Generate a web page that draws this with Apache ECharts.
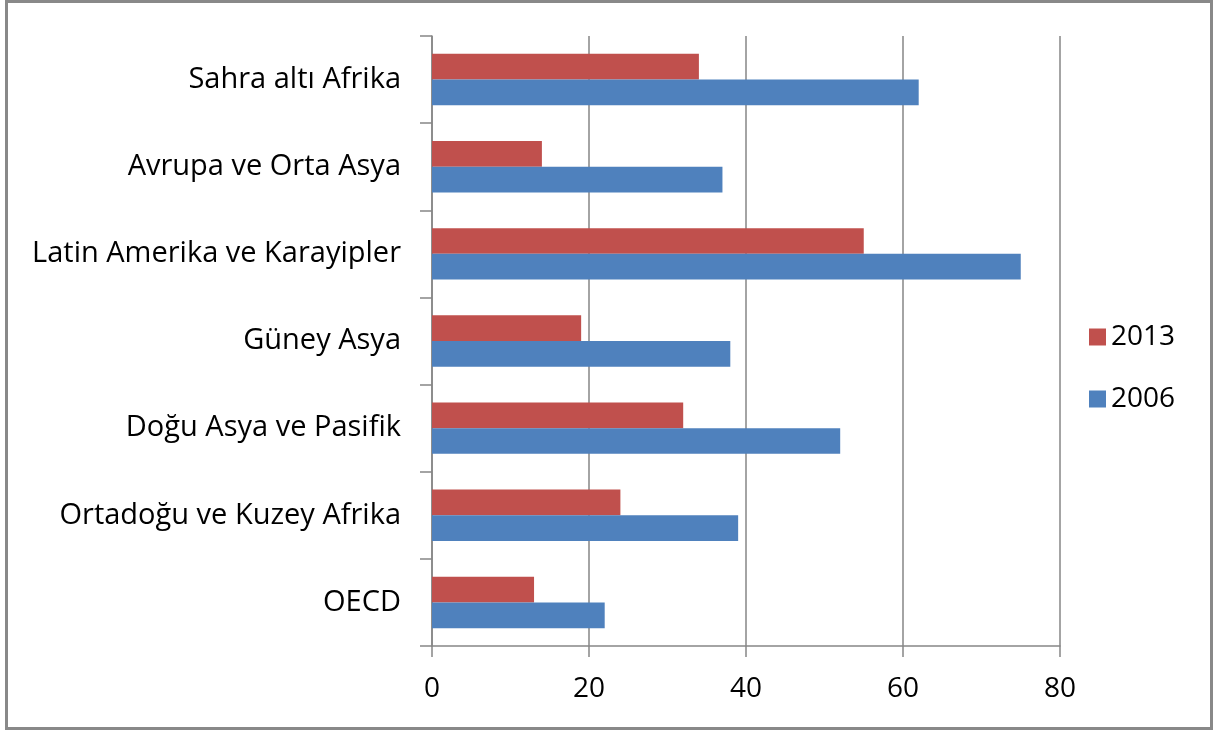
<!DOCTYPE html>
<html><head><meta charset="utf-8">
<script src="https://cdn.jsdelivr.net/npm/echarts@6/dist/echarts.min.js"></script>
<style>html,body{margin:0;padding:0;background:#fff}#c{width:1214px;height:731px}</style>
</head><body><div id="c"></div>
<script>
const categories = ['OECD','Ortadoğu ve Kuzey Afrika','Doğu Asya ve Pasifik','Güney Asya','Latin Amerika ve Karayipler','Avrupa ve Orta Asya','Sahra altı Afrika'];
const values2006 = [22, 39, 52, 38, 75, 37, 62];
const values2013 = [13, 24, 32, 19, 55, 14, 34];
const xTicks = [0, 20, 40, 60, 80];

const chart = echarts.init(document.getElementById('c'));
const font = 'Open Sans';
chart.setOption({
  animation: false,
  graphic: [{type:'rect', shape:{x:6.5,y:1.5,width:1205,height:727}, style:{fill:'none', stroke:'#898989', lineWidth:3}}],
  grid: {left: 432, right: 154, top: 36, bottom: 85},
  legend: {
    orient: 'vertical', left: 1084, top: 318, itemGap: 34,
    itemWidth: 17, itemHeight: 17, icon: 'rect',
    data: ['2013','2006'],
    textStyle: {fontFamily: font, fontSize: 28, lineHeight: 28, color: '#000', padding: [0,0,0,0]}
  },
  xAxis: {
    type: 'value', min: xTicks[0], max: xTicks[xTicks.length-1], interval: 20,
    axisLine: {show: true, lineStyle: {color: '#868686', width: 1.5}},
    axisTick: {show: true, length: 11, lineStyle: {color: '#868686', width: 1.5}},
    splitLine: {show: true, lineStyle: {color: '#868686', width: 1.5}},
    axisLabel: {fontFamily: font, fontSize: 28, lineHeight: 28, color: '#000', margin: 29}
  },
  yAxis: {
    type: 'category', data: categories,
    axisLine: {show: true, lineStyle: {color: '#868686', width: 1.5}},
    axisTick: {show: true, length: 12, lineStyle: {color: '#868686', width: 1.5}},
    axisLabel: {fontFamily: font, fontSize: 29, color: '#000', margin: 31}
  },
  series: [
    {name: '2013', type: 'bar', data: values2013, itemStyle: {color: '#C0504D'}, barGap: '0%', barCategoryGap: '41%'},
    {name: '2006', type: 'bar', data: values2006, itemStyle: {color: '#4F81BD'}, barGap: '0%', barCategoryGap: '41%'}
  ]
});
</script></body></html>
